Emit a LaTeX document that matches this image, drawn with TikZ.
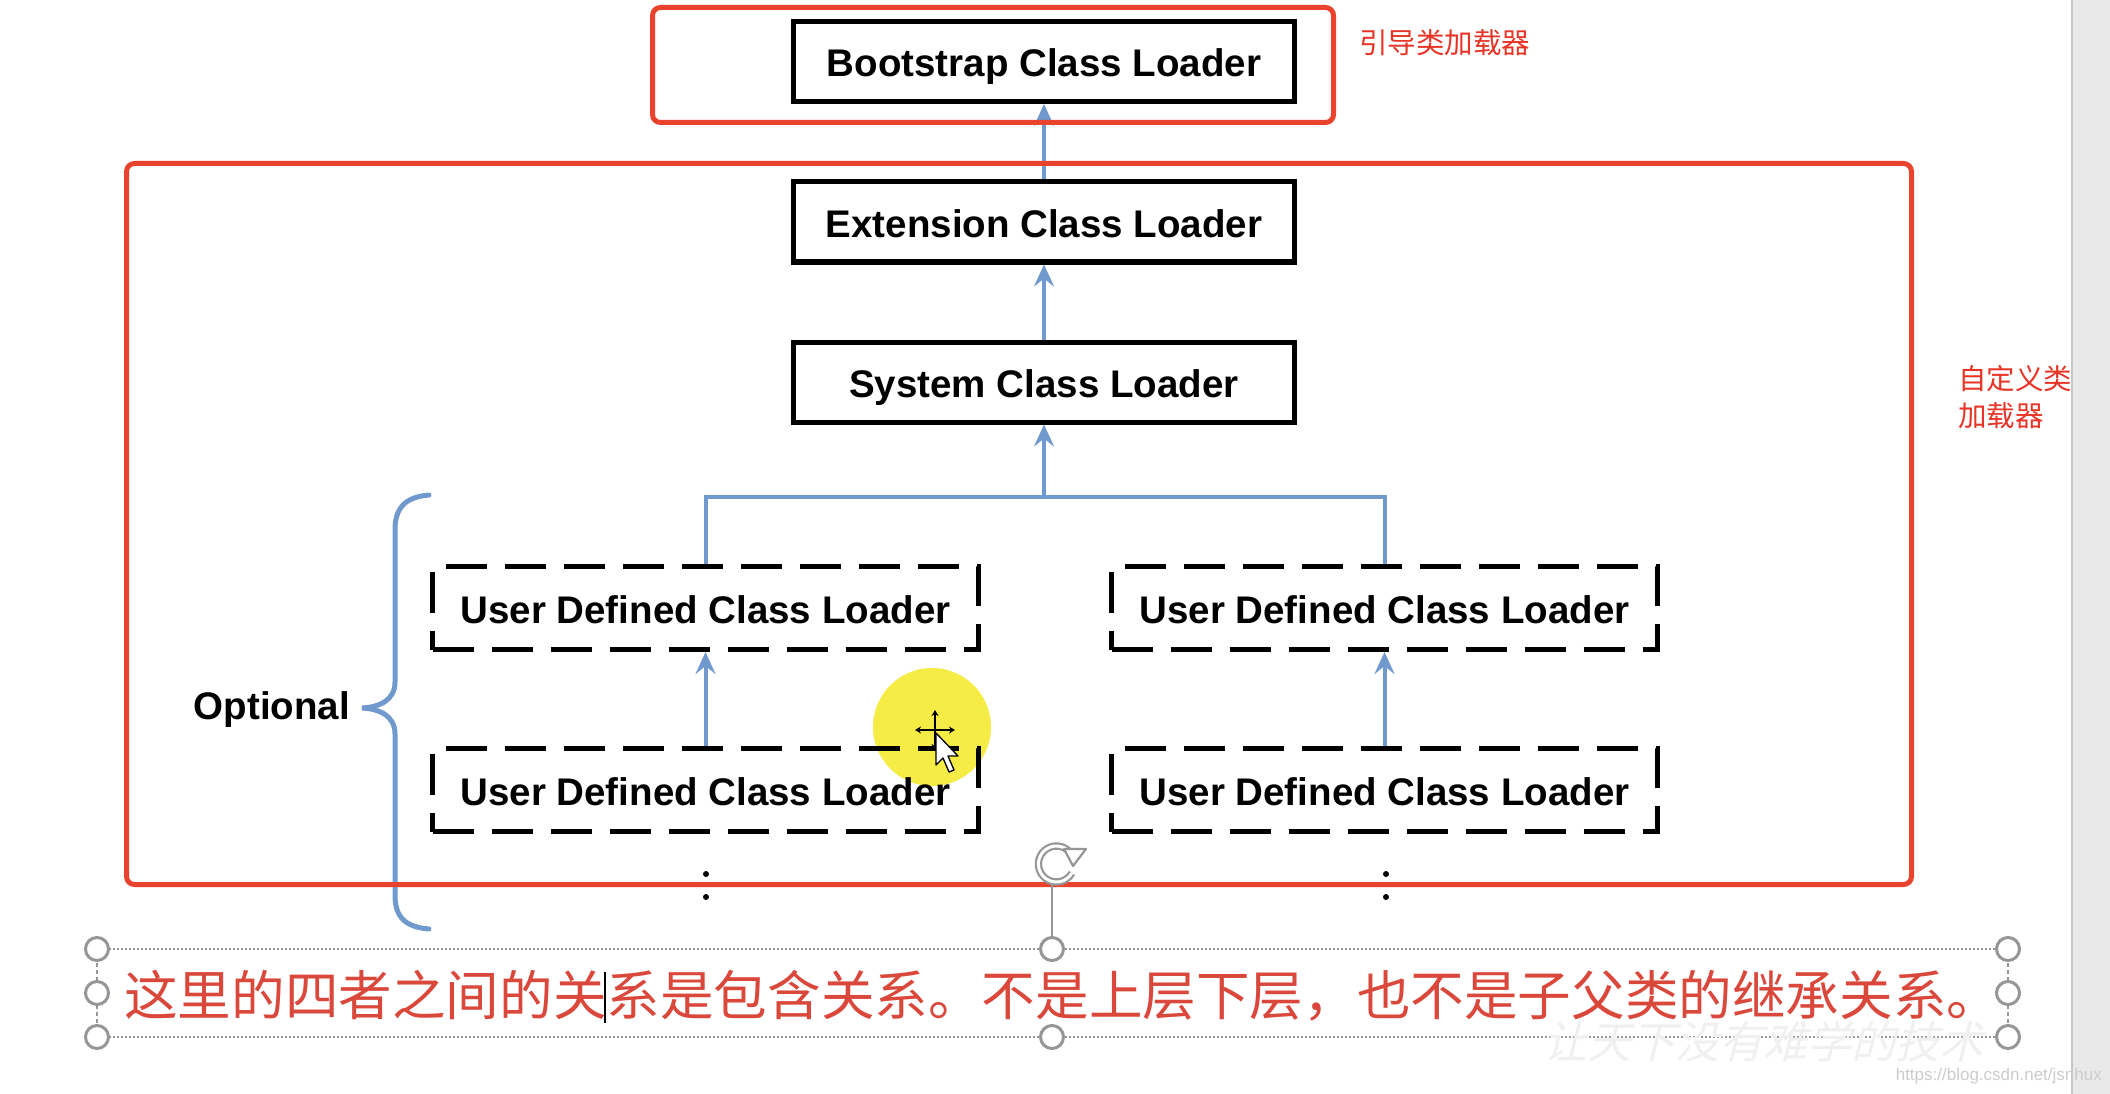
\documentclass[tikz,border=0pt]{standalone}
\usepackage{fontspec}
\setmainfont{Liberation Sans}
\newfontfamily\cjk{Noto Sans CJK SC}
\usetikzlibrary{arrows.meta}
\definecolor{redbox}{RGB}{234,67,45}
\definecolor{redtext}{RGB}{232,52,38}
\definecolor{redpara}{RGB}{218,72,60}
\definecolor{bluec}{RGB}{112,153,206}
\definecolor{handlec}{RGB}{150,150,150}
\definecolor{yellowc}{RGB}{246,236,70}
\definecolor{barc}{RGB}{233,233,233}
\begin{document}
\begin{tikzpicture}[x=1pt,y=-1pt,
  solidbox/.style={draw=black,line width=5pt,minimum width=501pt,minimum height=80pt,inner sep=0pt,
    text height=31pt,text depth=0pt,font=\fontsize{38.5}{46}\selectfont\bfseries},
  dashbox/.style={draw=black,line width=5pt,dash pattern=on 41pt off 18pt,minimum width=546pt,minimum height=83pt,inner sep=0pt,
    text height=31pt,text depth=0pt,font=\fontsize{38.5}{46}\selectfont\bfseries},
  bluearrow/.style={draw=bluec,line width=4pt,-{Stealth[length=22pt,width=20pt,inset=8pt]}},
  blueline/.style={draw=bluec,line width=4pt},
  redframe/.style={draw=redbox,line width=5pt,rounded corners=8pt},
  handle/.style={draw=handlec,line width=3pt,fill=white},
  cjklabel/.style={text=redtext,inner sep=0pt,font=\cjk\fontsize{28.5}{37}\selectfont}
]
\useasboundingbox (0,0) rectangle (2110,1094);
\fill[white] (0,0) rectangle (2110,1094);

% right grey bar
\fill[barc] (2072,0) rectangle (2110,1094);
\draw[gray!45,line width=1.5pt] (2072,0) -- (2072,1094);

% cursor highlight
\fill[yellowc] (932,727) circle (59);

% loader boxes
\node[solidbox] (boot) at (1044,61.5) {Bootstrap Class Loader};
\node[solidbox] (ext)  at (1044,222) {Extension Class Loader};
\node[solidbox] (sys)  at (1044,382) {System Class Loader};
\node[dashbox] (u1) at (705.5,608) {User Defined Class Loader};
\node[dashbox] (u2) at (1384.5,608) {User Defined Class Loader};
\node[dashbox] (u3) at (705.5,790) {User Defined Class Loader};
\node[dashbox] (u4) at (1384.5,790) {User Defined Class Loader};

% connectors
\coordinate (fork) at (1044,497);
\draw[bluearrow] (ext.north) -- (boot.south);
\draw[bluearrow] (sys.north) -- (ext.south);
\draw[blueline] (u1.north) |- (fork);
\draw[blueline] (u2.north) |- (fork);
\draw[bluearrow] (fork) -- (sys.south);
\draw[bluearrow] (u3.north) -- (u1.south);
\draw[bluearrow] (u4.north) -- (u2.south);

% continuation dots
\fill (706,874) circle (3);
\fill (706,897) circle (3);
\fill (1386,874) circle (3);
\fill (1386,897) circle (3);

% brace and Optional
\draw[bluec,line width=5pt,line cap=round]
  (429,495) .. controls (405,497) and (395,508) .. (395,530) -- (395,682)
  .. controls (395,700) and (380,707) .. (362,708)
  .. controls (380,709) and (395,716) .. (395,734) -- (395,895)
  .. controls (395,917) and (405,927) .. (429,929);
\node[font=\fontsize{38.5}{46}\selectfont\bfseries,inner sep=0pt] (opt) at (272,710) {Optional};

% red frames
\draw[redframe] (652.5,7.5) rectangle (1333.5,122.5);
\draw[redframe] (126.5,163.5) rectangle (1911.5,884.5);
\node[cjklabel,anchor=west] (lab1) at (1359,43) {引导类加载器};
\node[cjklabel,anchor=north west,align=left] (lab2) at (1958,365) {自定义类\\加载器};

% move cursor
\draw[black,line width=2pt,{Stealth[length=6pt,width=7pt]}-{Stealth[length=6pt,width=7pt]}] (935,710) -- (935,750);
\draw[black,line width=2pt,{Stealth[length=6pt,width=7pt]}-{Stealth[length=6pt,width=7pt]}] (915,730) -- (955,730);
\draw[black,line width=1.3pt,fill=white,line join=round]
  (936,733) -- (936,765) -- (943,758) -- (949,772) -- (954,770) -- (948,756) -- (958,756) -- cycle;

% selection frame of the text box
\draw[handlec,line width=2pt,dash pattern=on 2pt off 2pt] (97,949) -- (2008,949);
\draw[handlec,line width=2pt,dash pattern=on 2pt off 2pt] (97,1037) -- (2008,1037);
\draw[handlec,line width=1.2pt,dash pattern=on 4pt off 3pt] (97,949) -- (97,1037);
\draw[handlec,line width=1.2pt,dash pattern=on 4pt off 3pt] (2008,949) -- (2008,1037);
\draw[handlec,line width=2pt] (1052,884) -- (1052,937);
% rotation handle
\draw[handlec,line width=2.2pt,double=white,double distance=3pt] (1072,855) arc (-30:-330:18);
\draw[handlec,line width=2.2pt,fill=white,line join=round] (1064,849) -- (1086,849) -- (1073,866) -- cycle;
\foreach \hx/\hy in {97/949,1052/949,2008/949,97/993,2008/993,97/1037,1052/1037,2008/1037}
  \draw[handle] (\hx,\hy) circle (11.5);

% watermark
\node[anchor=west,inner sep=0pt,text=gray!12,font=\cjk\fontsize{44}{50}\selectfont,xslant=0.25] (wm) at (1548,1042) {让天下没有难学的技术};

% paragraph text
\node[anchor=west,inner sep=0pt,text=redpara,font=\cjk\fontsize{53.6}{60}\selectfont] (para) at (124,996)
  {这里的四者之间的关系是包含关系。不是上层下层，也不是子父类的继承关系。};
\draw[black,line width=1.6pt] (605,972) -- (605,1023);

% url
\node[anchor=east,inner sep=0pt,text=gray!40,font=\fontsize{17}{20}\selectfont] (url) at (2102,1076) {https://blog.csdn.net/jsnhux};
\end{tikzpicture}
\end{document}
